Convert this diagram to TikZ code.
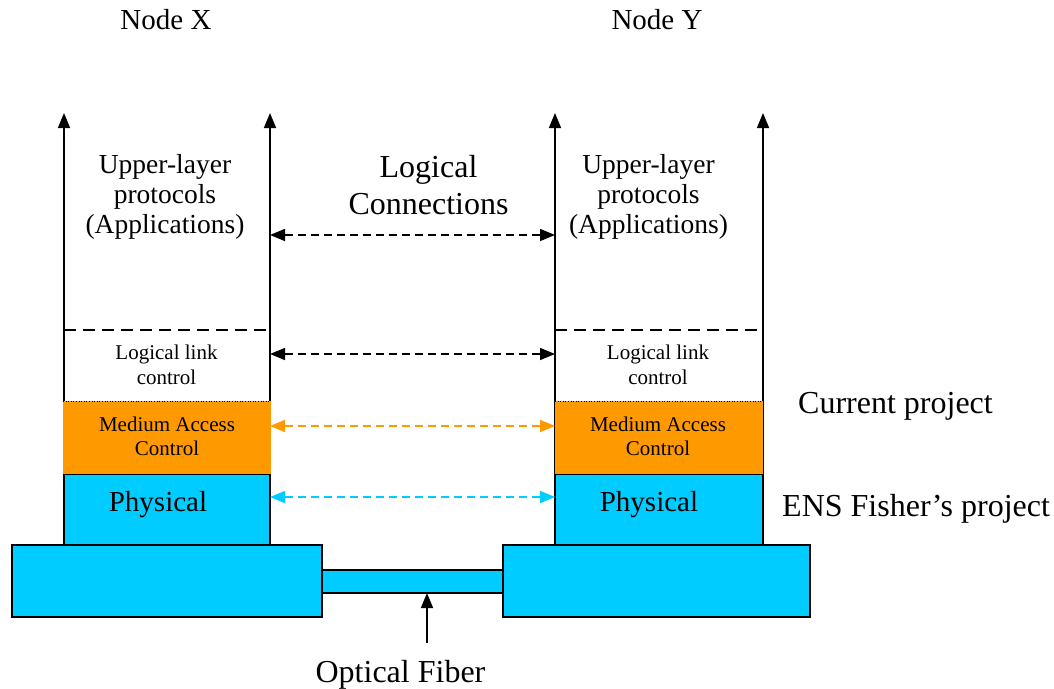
\documentclass[tikz,border=0pt]{standalone}
\usepackage{fontspec}
\setmainfont{Liberation Serif}
\usetikzlibrary{arrows.meta}

\definecolor{layercyan}{RGB}{0,204,255}
\definecolor{layerorange}{RGB}{255,153,0}

\tikzset{
  box/.style={rectangle, inner sep=0pt, outer sep=0pt},
  hwbox/.style={box, draw=black, line width=2pt, fill=layercyan},
  physbox/.style={box, draw=black, line width=1.6pt, fill=layercyan,
                  minimum width=206pt, minimum height=71pt},
  macbox/.style={box, fill=layerorange, minimum width=208pt, minimum height=73pt},
  stackline/.style={line width=1.6pt, -{Triangle[length=15pt,width=12pt]}},
  layersep/.style={line width=1.5pt, dash pattern=on 12pt off 7pt},
  peerlink/.style={line width=1.5pt, dash pattern=on 8pt off 5pt,
                   {Triangle[length=15pt,width=12pt]}-{Triangle[length=15pt,width=12pt]}},
  bigtxt/.style={inner sep=0pt, font=\fontsize{32}{37}\selectfont},
  upptxt/.style={inner sep=0pt, align=center, font=\fontsize{27.5}{30}\selectfont},
  smalltxt/.style={inner sep=0pt, align=center, font=\fontsize{21}{24.5}\selectfont},
  phystxt/.style={inner sep=0pt, font=\fontsize{29}{34}\selectfont},
}

\begin{document}
\begin{tikzpicture}[x=1pt, y=-1pt]
  \useasboundingbox (0,0) rectangle (1054,688);

  % hardware: two transceiver boards joined by the fibre
  \node[hwbox, minimum width=181pt, minimum height=23pt] (fiber) at (412.5,581.5) {};
  \node[hwbox, minimum width=310pt, minimum height=72pt] (boardX) at (167,581) {};
  \node[hwbox, minimum width=307pt, minimum height=72pt] (boardY) at (656.5,581) {};

  % physical layer boxes
  \node[physbox] (physX) at (167,509.5) {};
  \node[physbox, minimum width=208pt] (physY) at (659,509.5) {};

  % stack sides running up to the applications
  \coordinate (tipXW) at (64,113);
  \coordinate (tipXE) at (270,113);
  \coordinate (tipYW) at (555,113);
  \coordinate (tipYE) at (763,113);
  \draw[stackline] (physX.south west) -- (tipXW);
  \draw[stackline] (physX.south east) -- (tipXE);
  \draw[stackline] (physY.south west) -- (tipYW);
  \draw[stackline] (physY.south east) -- (tipYE);

  % MAC layer boxes
  \node[macbox] (macX) at (167,437.5) {};
  \node[macbox] (macY) at (659,437.5) {};

  % dotted edge between LLC and MAC
  \draw[line width=0.6pt, dotted] (macX.north west) -- (macX.north east);
  \draw[line width=0.6pt, dotted] (macY.north west) -- (macY.north east);

  % dashed border between upper layers and LLC
  \coordinate (sepXW) at (64,330);
  \coordinate (sepXE) at (270,330);
  \coordinate (sepYW) at (555,330);
  \coordinate (sepYE) at (763,330);
  \draw[layersep] (sepXW) -- (sepXE);
  \draw[layersep] (sepYW) -- (sepYE);

  % peer-to-peer logical links
  \coordinate (appX) at (270,235);   \coordinate (appY) at (555,235);
  \coordinate (llcX) at (270,354);   \coordinate (llcY) at (555,354);
  \coordinate (macXe) at (270,426);  \coordinate (macYw) at (555,426);
  \coordinate (phyX) at (270,497);   \coordinate (phyY) at (555,497);
  \draw[peerlink, black] (appX) -- (appY);
  \draw[peerlink, black] (llcX) -- (llcY);
  \draw[peerlink, layerorange] (macXe) -- (macYw);
  \draw[peerlink, layercyan] (phyX) -- (phyY);

  % fibre pointer
  \coordinate (fibTail) at (427,643);
  \draw[line width=1.6pt, -{Triangle[length=15pt,width=12pt]}] (fibTail) -- (fibTail |- fiber.south);

  % labels
  \node[phystxt, anchor=base] (nodeX) at (166,29) {Node X};
  \node[phystxt, anchor=base] (nodeY) at (657,29) {Node Y};

  \node[upptxt] (upX) at (165,197) {Upper-layer\\protocols\\(Applications)};
  \node[upptxt] (upY) at (648.5,197) {Upper-layer\\protocols\\(Applications)};

  \node[bigtxt, align=center] (logconn) at (428.5,185.5) {Logical\\Connections};

  \node[smalltxt] (llcXt) at (166.5,365) {Logical link\\control};
  \node[smalltxt] (llcYt) at (658,365) {Logical link\\control};

  \node[smalltxt] (macXt) at (167,436.5) {Medium Access\\Control};
  \node[smalltxt] (macYt) at (658,436.5) {Medium Access\\Control};

  \node[phystxt, anchor=base] (phyXt) at (158,511) {Physical};
  \node[phystxt, anchor=base] (phyYt) at (649,511) {Physical};

  \node[bigtxt, anchor=base west] (curproj) at (798,413) {Current project};
  \node[bigtxt, anchor=base west] (ensproj) at (782,516) {ENS Fisher’s project};

  \node[bigtxt, anchor=base] (fibtxt) at (400.5,682) {Optical Fiber};
\end{tikzpicture}
\end{document}
